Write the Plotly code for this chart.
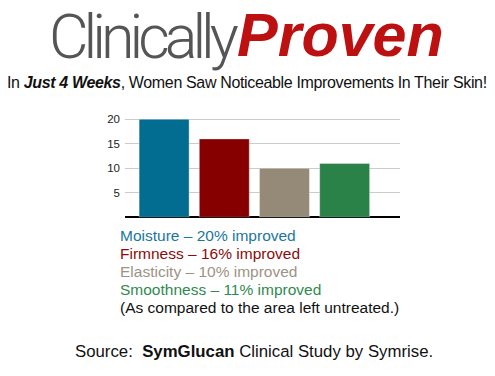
import plotly.graph_objects as go

categories = ["Moisture", "Firmness", "Elasticity", "Smoothness"]
values = [20, 16, 10, 11]
bar_colors = ["#026c91", "#870000", "#958a78", "#2a8249"]
text_colors = ["#1a779c", "#8e0a0a", "#9d9385", "#2f8a50"]
tick_vals = [5, 10, 15, 20]
tick_text = ["5", "10", "15", "20"]

W, H = 495, 376

def px(x):
    return x / W

def py(y):
    return 1 - y / H

fig = go.Figure()
fig.add_trace(go.Bar(
    x=categories, y=values,
    marker=dict(color=bar_colors, line=dict(color="rgba(255,255,255,0.35)", width=1)),
    width=0.83,
))

# y axis geometry: y=0 at 217.3px, y=20 at 119.3px
unit = (217.3 - 119.3) / 20
ymax = 21
top_px = 217.3 - unit * ymax

annotations = []
# Title
annotations.append(dict(text="<span style='letter-spacing:-5px'>Clinically</span>", x=px(240), y=1,
                        xref="paper", yref="paper",
                        xanchor="right", yanchor="top", showarrow=False, borderpad=0,
                        font=dict(family="Roboto, Liberation Sans", size=61, color="#555555", weight=300)))
annotations.append(dict(text="<b><i>Proven</i></b>", x=px(236), y=1, xref="paper", yref="paper",
                        xanchor="left", yanchor="top", showarrow=False, borderpad=0,
                        font=dict(family="Liberation Sans, Arial", size=61, color="#bd1010")))
annotations.append(dict(text="<span style='letter-spacing:-0.35px'>In <b><i>Just 4 Weeks</i></b>, Women Saw Noticeable Improvements In Their Skin!</span>",
                        x=px(247), y=py(82), xref="paper", yref="paper",
                        xanchor="center", yanchor="middle", showarrow=False,
                        font=dict(family="Liberation Sans, Arial", size=16, color="#111111")))

line_y = [235, 253, 271, 289]
for cat, val, col, yy in zip(categories, values, text_colors, line_y):
    annotations.append(dict(text=f"{cat} – {val}% improved", x=px(118), y=py(yy),
                            xref="paper", yref="paper", xanchor="left", yanchor="middle",
                            showarrow=False,
                            font=dict(family="Liberation Sans, Arial", size=15.5, color=col)))
annotations.append(dict(text="(As compared to the area left untreated.)", x=px(118), y=py(307),
                        xref="paper", yref="paper", xanchor="left", yanchor="middle",
                        showarrow=False,
                        font=dict(family="Liberation Sans, Arial", size=15.5, color="#111111")))
annotations.append(dict(text="Source:  <b>SymGlucan</b> Clinical Study by Symrise.", x=px(254), y=py(351),
                        xref="paper", yref="paper", xanchor="center", yanchor="middle",
                        showarrow=False,
                        font=dict(family="Liberation Sans, Arial", size=16.8, color="#111111")))

fig.update_layout(
    width=W, height=H,
    margin=dict(l=0, r=0, t=0, b=0),
    paper_bgcolor="white", plot_bgcolor="white",
    showlegend=False,
    annotations=annotations,
    xaxis=dict(domain=[px(125), px(400)], range=[-0.65, 3.92], showticklabels=False,
               showgrid=False, zeroline=False, showline=False, ticks=""),
    yaxis=dict(domain=[py(217.3), py(top_px)], range=[0, ymax], tickvals=tick_vals, ticktext=tick_text,
               showgrid=True, gridcolor="#cccccc", gridwidth=1, zeroline=True, zerolinecolor="#000000",
               zerolinewidth=1.5, showline=False, ticks="", ticklabelstandoff=4,
               tickfont=dict(family="Liberation Sans, Arial", size=11.5, color="#222222")),
)

fig.write_html("out.html", config={"displayModeBar": False},
               post_script="document.body.style.margin='0';document.body.style.overflow='hidden';")
